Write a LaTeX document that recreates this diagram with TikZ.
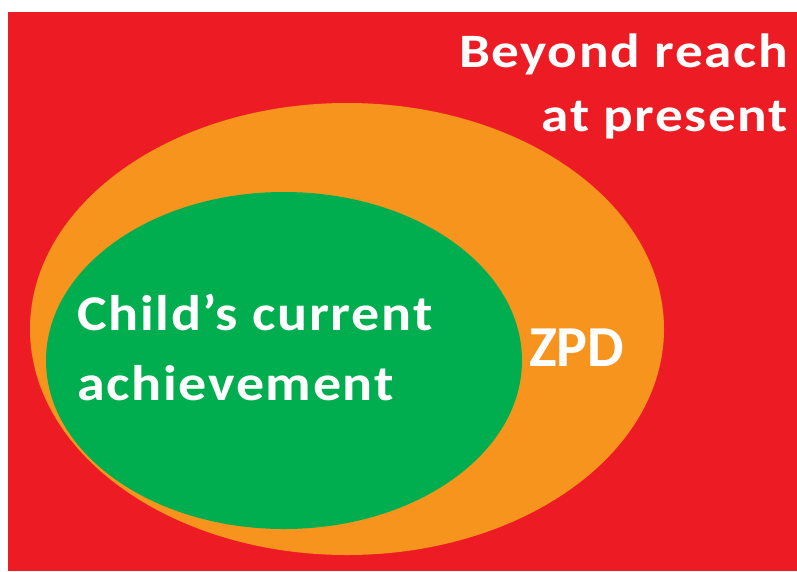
\documentclass[tikz,border=0pt]{standalone}
\usepackage{fontspec}
\setmainfont{Carlito}
\newfontfamily\labelfont{Carlito}[LetterSpace=3]
\usepackage{xcolor}
\usepackage{tikz}
\usetikzlibrary{shapes.geometric}
\definecolor{farred}{HTML}{ED1C24}
\definecolor{zpdorange}{HTML}{F7941D}
\definecolor{nowgreen}{HTML}{00AE4F}
\tikzstyle{zone} = [ellipse, draw=none, inner sep=0pt]
\tikzstyle{lbl} = [text=white, inner sep=0pt, transform shape]

\begin{document}
\begin{tikzpicture}[x=1pt, y=-1pt]
\useasboundingbox (0,0) rectangle (797,571);
\fill [farred] (8,12) rectangle (797,571);
\node [zone, fill=zpdorange, minimum width=634pt, minimum height=452pt] (ZPD) at (347, 329) {};
\node [zone, fill=nowgreen, minimum width=476pt, minimum height=337pt] (Now) at (284, 360.5) {};
% the two long labels are set a bit wider than the font
\begin{scope}[shift={(788,131.7)}, xscale=1.15]
\node [lbl, align=right, anchor=base east, font=\labelfont\bfseries\fontsize{48}{64}\selectfont] (Far) at (0,0) {Beyond reach\\at present};
\end{scope}
\begin{scope}[shift={(77,400)}, xscale=1.12]
\node [lbl, align=left, anchor=base west, font=\labelfont\bfseries\fontsize{50}{70}\selectfont] (NowT) at (0,0) {Child’s current\\achievement};
\end{scope}
\node [lbl, anchor=base west, font=\bfseries\fontsize{58}{60}\selectfont] (ZPDT) at (529, 366) {ZPD};
\end{tikzpicture}
\end{document}
